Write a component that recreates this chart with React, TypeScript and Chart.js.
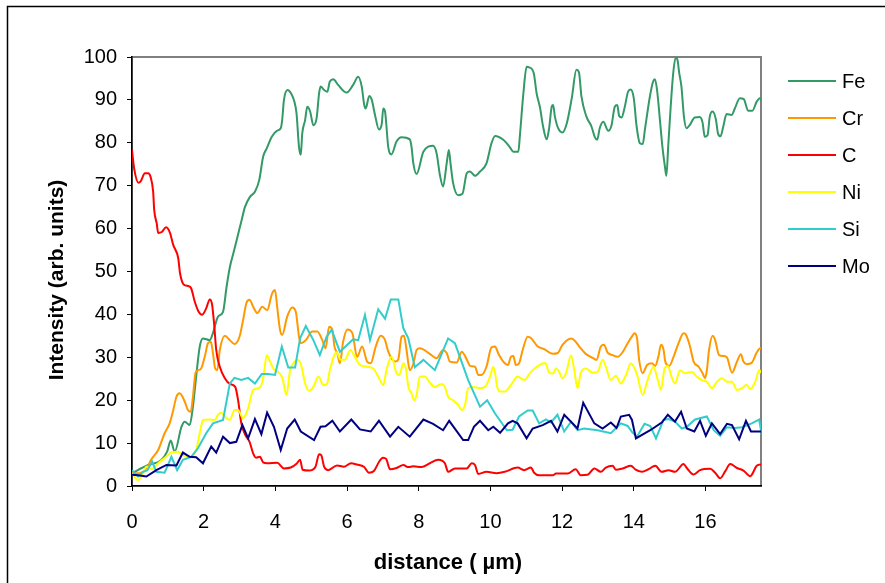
import { useEffect, useRef } from "react";
import { Chart, registerables } from "chart.js";

Chart.register(...registerables);

// ---------------- data (distance in µm, intensity in arb. units) ----------------
const SERIES_NAMES = ["Fe", "Cr", "C", "Ni", "Si", "Mo"];
const SERIES_COLORS = ["#339966", "#FF9900", "#FF0000", "#FFFF00", "#33CCCC", "#000080"];
const X_TICKS = [0, 2, 4, 6, 8, 10, 12, 14, 16];
const Y_TICKS = [0, 10, 20, 30, 40, 50, 60, 70, 80, 90, 100];
const X_MAX = 17.55;

const FE: [number, number][] = [[0,3.0],[0.45,4.9],[0.81,6.0],[0.98,8.0],[1.08,10.6],[1.19,8.0],[1.38,13.8],[1.47,15.0],[1.61,14.2],[1.70,18.5],[1.79,25.5],[1.89,32.5],[1.98,34.4],[2.17,34.0],[2.26,35.7],[2.40,39.5],[2.54,40.6],[2.64,46.5],[2.73,51.0],[2.83,54.3],[2.92,57.3],[3.06,62.0],[3.15,65.0],[3.29,67.4],[3.43,68.6],[3.55,71.3],[3.66,76.8],[3.76,78.7],[3.90,81.4],[4.04,82.8],[4.15,83.4],[4.19,85.3],[4.24,90.0],[4.34,92.3],[4.44,91.5],[4.53,89.6],[4.59,86.9],[4.66,79.0],[4.71,77.2],[4.75,82.2],[4.83,85.3],[4.89,88.4],[4.97,87.3],[5.06,84.1],[5.15,85.7],[5.22,91.5],[5.26,93.1],[5.36,92.3],[5.45,91.9],[5.52,94.3],[5.62,94.8],[5.75,93.5],[5.99,91.7],[6.17,93.5],[6.31,95.4],[6.41,93.1],[6.48,88.8],[6.52,88.0],[6.62,90.9],[6.69,90.0],[6.78,86.5],[6.89,83.1],[6.97,84.5],[7.01,88.0],[7.06,87.3],[7.15,79.0],[7.24,77.3],[7.38,80.3],[7.52,81.3],[7.75,80.8],[7.80,79.0],[7.85,75.2],[7.94,72.7],[8.13,77.9],[8.40,79.3],[8.50,77.5],[8.59,72.5],[8.68,69.8],[8.78,75.2],[8.84,78.3],[8.89,75.0],[8.96,70.6],[9.10,67.8],[9.22,68.1],[9.34,72.9],[9.43,73.3],[9.57,72.3],[9.71,73.3],[9.89,75.2],[10.03,79.9],[10.13,81.6],[10.36,80.7],[10.54,79.0],[10.64,77.9],[10.78,77.9],[10.82,81.4],[10.92,91.5],[11.01,97.7],[11.08,97.6],[11.21,96.2],[11.29,91.5],[11.38,88.4],[11.47,83.8],[11.57,80.8],[11.64,83.5],[11.71,88.4],[11.75,88.8],[11.80,86.1],[11.89,83.4],[12.01,82.4],[12.13,84.5],[12.27,90.4],[12.40,97.0],[12.47,96.5],[12.54,90.8],[12.68,86.1],[12.82,83.8],[12.91,81.4],[12.98,80.7],[13.05,83.4],[13.15,84.9],[13.29,82.8],[13.38,84.1],[13.47,88.4],[13.54,88.8],[13.59,86.3],[13.66,85.9],[13.75,88.4],[13.84,91.9],[13.91,92.4],[14.00,90.4],[14.08,83.8],[14.17,79.9],[14.25,79.7],[14.31,83.0],[14.45,90.8],[14.54,94.3],[14.59,94.8],[14.65,92.3],[14.73,85.3],[14.80,79.0],[14.87,74.4],[14.91,72.3],[14.96,79.0],[15.03,88.4],[15.10,96.2],[15.17,99.9],[15.22,99.3],[15.27,96.2],[15.33,93.1],[15.40,86.1],[15.47,83.4],[15.56,84.1],[15.70,85.9],[15.84,86.0],[15.92,84.7],[15.98,81.4],[16.06,81.8],[16.12,86.1],[16.20,87.3],[16.29,85.5],[16.35,82.2],[16.42,81.5],[16.49,83.5],[16.59,86.7],[16.73,86.5],[16.82,88.0],[16.96,90.4],[17.07,90.2],[17.19,87.5],[17.31,87.5],[17.43,89.6],[17.52,90.4],[17.61,88.8]];

const CR: [number, number][] = [[0,3.0],[0.21,3.0],[0.40,4.1],[0.54,6.2],[0.73,8.4],[0.91,12.3],[1.05,14.6],[1.14,17.3],[1.24,20.8],[1.33,21.6],[1.47,19.7],[1.56,17.7],[1.64,17.3],[1.70,20.8],[1.77,26.3],[1.84,27.0],[1.93,27.4],[2.04,30.5],[2.12,33.3],[2.20,33.6],[2.26,30.9],[2.32,27.4],[2.38,27.0],[2.45,31.7],[2.59,35.0],[2.73,34.0],[2.86,33.1],[3.00,34.8],[3.10,38.7],[3.19,42.6],[3.28,43.4],[3.38,41.8],[3.50,40.3],[3.63,41.8],[3.77,41.0],[3.91,44.9],[3.99,45.7],[4.05,41.8],[4.13,36.4],[4.19,35.2],[4.33,39.5],[4.47,41.6],[4.57,40.6],[4.66,34.8],[4.71,33.3],[4.85,34.0],[5.03,36.0],[5.17,36.0],[5.31,34.0],[5.40,32.1],[5.50,37.1],[5.59,36.4],[5.65,32.5],[5.73,30.9],[5.80,28.6],[5.89,33.6],[6.01,36.5],[6.15,35.6],[6.28,30.1],[6.42,32.5],[6.56,29.0],[6.66,28.6],[6.80,32.5],[6.94,35.0],[7.06,34.0],[7.15,31.3],[7.34,29.0],[7.43,29.5],[7.52,34.8],[7.59,35.0],[7.66,31.7],[7.75,27.0],[7.85,28.5],[7.94,31.7],[8.03,32.1],[8.31,30.8],[8.50,29.8],[8.68,31.7],[8.78,31.0],[8.87,29.0],[9.06,28.8],[9.20,31.3],[9.34,29.5],[9.43,28.0],[9.57,27.8],[9.66,25.9],[9.75,25.9],[9.89,27.8],[10.03,32.3],[10.13,32.5],[10.22,30.9],[10.36,29.0],[10.49,28.2],[10.57,30.1],[10.64,30.3],[10.71,28.2],[10.80,28.6],[10.90,31.7],[11.04,34.8],[11.13,34.5],[11.32,32.5],[11.50,31.9],[11.74,30.8],[11.88,31.0],[12.01,32.9],[12.25,34.4],[12.34,34.0],[12.48,32.5],[12.66,30.8],[12.87,29.8],[12.96,29.4],[13.08,32.5],[13.17,32.9],[13.27,31.1],[13.41,30.5],[13.55,30.1],[13.69,31.2],[13.83,33.3],[13.96,35.0],[14.02,35.6],[14.09,34.5],[14.15,29.4],[14.25,26.3],[14.37,28.2],[14.51,28.6],[14.60,28.0],[14.69,30.3],[14.76,32.9],[14.83,31.8],[14.88,29.0],[14.99,28.0],[15.11,30.1],[15.25,33.3],[15.39,35.6],[15.46,35.2],[15.57,32.5],[15.67,29.0],[15.81,27.8],[15.92,26.3],[15.99,25.1],[16.04,27.0],[16.10,31.7],[16.20,35.0],[16.27,34.0],[16.38,30.5],[16.51,30.3],[16.60,30.0],[16.74,26.4],[16.88,29.0],[16.99,30.7],[17.06,29.0],[17.15,28.4],[17.29,28.7],[17.43,31.1],[17.53,32.1],[17.62,31.3]];

const C: [number, number][] = [[0,78.3],[0.06,74.0],[0.18,70.7],[0.24,71.0],[0.36,72.9],[0.45,72.9],[0.52,72.0],[0.59,68.6],[0.62,64.3],[0.69,61.2],[0.73,59.0],[0.83,59.2],[0.95,60.3],[1.06,59.0],[1.15,56.2],[1.29,53.1],[1.34,49.6],[1.45,46.9],[1.57,46.6],[1.65,46.1],[1.75,43.0],[1.86,40.6],[1.95,39.9],[2.07,41.4],[2.17,43.5],[2.23,42.5],[2.29,37.9],[2.35,31.7],[2.45,27.8],[2.59,25.1],[2.73,23.8],[2.88,23.1],[2.96,20.0],[3.05,14.6],[3.16,11.9],[3.28,10.3],[3.38,7.6],[3.46,6.6],[3.57,6.8],[3.66,5.5],[3.77,5.3],[4.05,5.4],[4.24,4.1],[4.43,4.3],[4.59,5.2],[4.69,6.1],[4.76,3.8],[4.94,3.6],[5.12,4.5],[5.22,7.4],[5.28,7.2],[5.36,4.5],[5.47,3.7],[5.72,4.8],[5.91,4.5],[6.11,5.3],[6.28,5.0],[6.47,4.5],[6.61,3.1],[6.75,3.5],[6.89,5.6],[7.00,6.6],[7.09,6.3],[7.20,3.9],[7.38,4.2],[7.57,4.9],[7.71,4.4],[7.85,4.6],[8.08,4.4],[8.31,5.3],[8.54,6.1],[8.73,5.3],[8.82,3.3],[9.01,4.1],[9.34,4.1],[9.48,5.3],[9.57,4.9],[9.66,2.8],[9.89,3.3],[10.17,3.0],[10.40,3.3],[10.76,4.3],[10.94,3.7],[11.13,4.3],[11.22,3.1],[11.36,2.5],[11.74,2.5],[11.83,2.9],[12.15,2.9],[12.38,3.9],[12.52,2.5],[12.71,2.6],[12.90,4.1],[13.08,3.3],[13.22,4.3],[13.41,4.7],[13.50,3.8],[13.69,4.1],[13.92,4.7],[14.04,3.9],[14.23,3.3],[14.41,3.9],[14.60,4.7],[14.78,3.3],[14.97,3.7],[15.15,3.3],[15.39,5.1],[15.48,4.2],[15.67,2.7],[15.85,3.7],[16.13,4.0],[16.27,3.1],[16.41,1.8],[16.55,3.4],[16.69,5.1],[16.88,4.2],[17.06,3.6],[17.25,2.3],[17.43,4.7],[17.53,5.0],[17.60,4.5]];

const NI: [number, number][] = [[0,3.0],[0.17,1.4],[0.31,3.0],[0.40,4.5],[0.54,3.9],[0.73,5.3],[0.91,6.5],[1.10,7.8],[1.28,8.0],[1.42,7.2],[1.61,6.8],[1.79,8.4],[1.89,12.3],[1.98,15.4],[2.12,15.5],[2.31,15.4],[2.40,16.6],[2.49,17.1],[2.59,16.2],[2.73,15.4],[2.86,17.7],[2.96,17.7],[3.10,15.8],[3.24,18.1],[3.38,22.4],[3.57,23.0],[3.66,25.1],[3.76,30.5],[3.85,29.0],[3.96,27.2],[4.10,26.4],[4.20,25.1],[4.31,21.2],[4.41,27.0],[4.50,28.6],[4.64,29.4],[4.73,27.8],[4.83,23.9],[4.94,22.2],[5.06,23.1],[5.20,25.5],[5.34,23.5],[5.44,23.8],[5.52,27.0],[5.71,31.2],[5.82,29.4],[5.94,29.4],[6.09,31.7],[6.22,30.1],[6.36,28.2],[6.55,27.8],[6.73,27.4],[6.87,25.5],[7.01,23.5],[7.10,27.0],[7.24,30.1],[7.38,26.3],[7.46,25.9],[7.57,28.6],[7.64,27.5],[7.71,23.1],[7.80,21.6],[7.87,20.0],[7.94,21.2],[8.03,25.5],[8.17,25.5],[8.31,24.1],[8.45,23.1],[8.64,23.8],[8.73,23.1],[8.82,20.8],[8.96,20.0],[9.10,18.9],[9.20,17.7],[9.29,18.9],[9.38,22.8],[9.52,23.1],[9.71,22.8],[9.85,23.1],[9.99,25.5],[10.08,27.8],[10.13,26.3],[10.19,23.1],[10.27,22.0],[10.40,22.0],[10.57,23.5],[10.76,25.5],[10.94,24.7],[11.13,26.6],[11.36,28.2],[11.53,28.7],[11.64,26.4],[11.74,26.2],[11.83,27.4],[11.92,26.6],[12.01,25.1],[12.11,26.3],[12.25,30.5],[12.34,27.0],[12.43,22.8],[12.52,26.3],[12.66,27.4],[12.85,26.4],[12.99,26.6],[13.13,29.4],[13.22,27.8],[13.36,24.7],[13.50,25.7],[13.64,23.9],[13.78,25.8],[13.92,28.6],[14.09,26.0],[14.25,21.2],[14.37,24.3],[14.55,27.8],[14.67,24.7],[14.76,22.4],[14.86,27.4],[14.95,28.0],[15.06,25.3],[15.15,23.9],[15.29,27.0],[15.43,26.3],[15.62,26.6],[15.76,25.5],[15.90,24.7],[16.04,24.3],[16.18,22.8],[16.32,24.3],[16.46,25.1],[16.60,24.3],[16.74,24.3],[16.88,22.4],[17.02,22.8],[17.15,23.6],[17.25,22.6],[17.39,24.3],[17.50,27.0],[17.62,25.5]];

const SI: [number, number][] = [[0,3.7],[0.17,2.2],[0.31,3.3],[0.43,3.7],[0.56,5.7],[0.68,3.3],[0.91,3.1],[1.10,6.8],[1.26,3.7],[1.42,6.1],[1.65,6.8],[1.84,8.8],[2.07,12.3],[2.26,14.6],[2.54,15.4],[2.73,23.9],[2.86,25.2],[3.05,24.7],[3.24,25.2],[3.43,23.9],[3.62,26.1],[3.80,26.1],[3.99,25.9],[4.18,32.5],[4.36,27.6],[4.55,27.6],[4.69,34.4],[4.85,37.3],[5.06,34.0],[5.24,30.5],[5.43,34.8],[5.57,36.4],[5.80,31.3],[6.03,33.1],[6.17,34.2],[6.31,34.0],[6.50,39.9],[6.64,34.0],[6.87,41.2],[7.06,39.0],[7.22,43.5],[7.43,43.5],[7.57,36.8],[7.71,34.4],[7.89,27.7],[8.13,29.4],[8.45,27.0],[8.82,34.4],[9.01,33.3],[9.38,24.7],[9.71,18.5],[9.91,20.0],[10.13,16.9],[10.46,13.0],[10.62,13.1],[10.80,16.2],[11.04,17.6],[11.18,17.6],[11.36,14.6],[11.55,15.5],[11.69,14.8],[11.87,16.6],[12.06,12.7],[12.25,15.0],[12.43,13.0],[12.62,13.4],[12.99,13.0],[13.36,12.3],[13.64,14.6],[13.83,14.0],[13.96,12.5],[14.09,11.5],[14.30,14.5],[14.46,14.0],[14.62,11.1],[14.83,15.4],[14.97,15.6],[15.15,15.0],[15.34,13.4],[15.48,13.8],[15.71,15.5],[16.04,16.2],[16.23,13.0],[16.41,11.7],[16.60,13.7],[16.83,13.5],[17.02,13.7],[17.29,14.6],[17.50,15.5],[17.57,11.9]];

const MO: [number, number][] = [[0,2.6],[0.17,2.5],[0.40,2.2],[0.68,3.7],[0.96,4.9],[1.24,4.8],[1.42,7.8],[1.61,6.8],[1.79,6.7],[1.98,5.3],[2.21,9.2],[2.35,7.8],[2.54,11.5],[2.73,10.0],[2.91,10.3],[3.08,14.2],[3.24,11.1],[3.43,15.6],[3.61,12.1],[3.77,17.1],[3.96,13.8],[4.15,8.4],[4.33,13.4],[4.54,15.5],[4.71,12.7],[5.08,10.7],[5.26,13.8],[5.40,13.9],[5.59,15.2],[5.80,12.7],[6.12,15.5],[6.36,13.2],[6.66,12.7],[6.89,15.2],[7.20,11.5],[7.43,13.8],[7.75,11.5],[8.13,15.5],[8.40,14.5],[8.68,13.0],[8.85,15.2],[9.24,10.7],[9.38,10.7],[9.54,13.8],[9.71,15.2],[9.94,13.0],[10.08,13.8],[10.27,12.4],[10.49,14.6],[10.62,15.2],[10.76,14.6],[11.01,11.1],[11.18,13.4],[11.46,14.2],[11.69,15.2],[11.87,12.7],[12.06,16.6],[12.43,13.4],[12.59,19.4],[12.90,14.6],[13.13,13.4],[13.36,14.8],[13.52,13.5],[13.64,16.2],[13.87,16.6],[13.95,15.4],[14.06,11.1],[14.46,13.0],[14.78,14.8],[14.95,16.6],[15.15,15.0],[15.32,17.3],[15.48,13.4],[15.69,12.7],[15.85,15.2],[16.01,11.7],[16.18,14.6],[16.41,12.1],[16.60,14.5],[16.74,14.2],[16.94,10.9],[17.13,15.2],[17.27,12.7],[17.62,12.7]];

const SERIES_DATA = [FE, CR, C, NI, SI, MO];
const SMOOTH = [true, true, true, true, false, false];

const FONT = "'Liberation Sans', Arial, sans-serif";

const decorPlugin = {
  id: "decor",
  beforeDraw(chart: any) {
    const { ctx, width, height, chartArea: a } = chart;
    ctx.save();
    ctx.fillStyle = "#ffffff";
    ctx.fillRect(0, 0, width, height);
    // outer frame
    ctx.strokeStyle = "#000000";
    ctx.lineWidth = 1.5;
    ctx.strokeRect(7.5, 6.5, width + 20, height + 20);
    // plot-area frame (grey)
    ctx.strokeStyle = "#808080";
    ctx.lineWidth = 2;
    ctx.strokeRect(a.left, a.top, a.right - a.left, a.bottom - a.top);
    ctx.restore();
  },
  afterDraw(chart: any) {
    const { ctx } = chart;
    ctx.save();
    // axis titles
    ctx.fillStyle = "#000000";
    ctx.textAlign = "center";
    ctx.textBaseline = "middle";
    ctx.font = `bold 22px ${FONT}`;
    ctx.fillText("distance ( µm)", 448, 563);
    ctx.font = `bold 21px ${FONT}`;
    ctx.translate(57, 280);
    ctx.rotate(-Math.PI / 2);
    ctx.fillText("Intensity (arb. units)", 0, 0);
    ctx.setTransform(1, 0, 0, 1, 0, 0);
    // legend
    ctx.font = `20px ${FONT}`;
    ctx.textAlign = "left";
    SERIES_NAMES.forEach((name, i) => {
      const y = 81 + 37 * i;
      ctx.strokeStyle = SERIES_COLORS[i];
      ctx.lineWidth = 2;
      ctx.beginPath();
      ctx.moveTo(788, y);
      ctx.lineTo(836, y);
      ctx.stroke();
      ctx.fillStyle = "#000000";
      ctx.fillText(name, 842, y + 1);
    });
    ctx.restore();
  },
};

export default function App() {
  const ref = useRef<HTMLCanvasElement | null>(null);

  useEffect(() => {
    if (!ref.current) return;
    const datasets = SERIES_NAMES.map((name, i) => ({
      label: name,
      data: SERIES_DATA[i].map(([x, y]) => ({ x, y })),
      borderColor: SERIES_COLORS[i],
      backgroundColor: SERIES_COLORS[i],
      borderWidth: 2,
      pointRadius: 0,
      fill: false,
      cubicInterpolationMode: SMOOTH[i] ? ("monotone" as const) : ("default" as const),
      tension: 0,
      order: SERIES_NAMES.length - i,
    }));

    const chart = new Chart(ref.current, {
      type: "line",
      data: { datasets },
      plugins: [decorPlugin],
      options: {
        animation: false,
        responsive: false,
        maintainAspectRatio: false,
        layout: { padding: { left: 0, right: 124, top: 57, bottom: 0 } },
        plugins: { legend: { display: false }, tooltip: { enabled: false } },
        scales: {
          x: {
            type: "linear",
            min: 0,
            max: X_MAX,
            afterBuildTicks: (s: any) => {
              s.ticks = X_TICKS.map((v) => ({ value: v }));
            },
            afterFit: (s: any) => {
              s.height = 97;
            },
            grid: { display: true, drawOnChartArea: false, drawTicks: true, tickLength: 5, color: "#000000" },
            border: { display: true, color: "#000000", width: 1.5 },
            ticks: { color: "#000000", font: { family: FONT, size: 20 }, padding: 19, maxRotation: 0 },
          },
          y: {
            type: "linear",
            min: 0,
            max: 100,
            afterBuildTicks: (s: any) => {
              s.ticks = Y_TICKS.map((v) => ({ value: v }));
            },
            afterFit: (s: any) => {
              s.width = 132;
            },
            grid: { display: true, drawOnChartArea: false, drawTicks: true, tickLength: 5, color: "#000000" },
            border: { display: true, color: "#000000", width: 1.5 },
            ticks: { color: "#000000", font: { family: FONT, size: 20 }, padding: 10 },
          },
        },
      },
    });
    return () => chart.destroy();
  }, []);

  return (
    <div style={{ position: "absolute", left: 0, top: 0, width: 885, height: 583 }}>
      <canvas ref={ref} width={885} height={583} style={{ width: 885, height: 583, display: "block" }} />
    </div>
  );
}
